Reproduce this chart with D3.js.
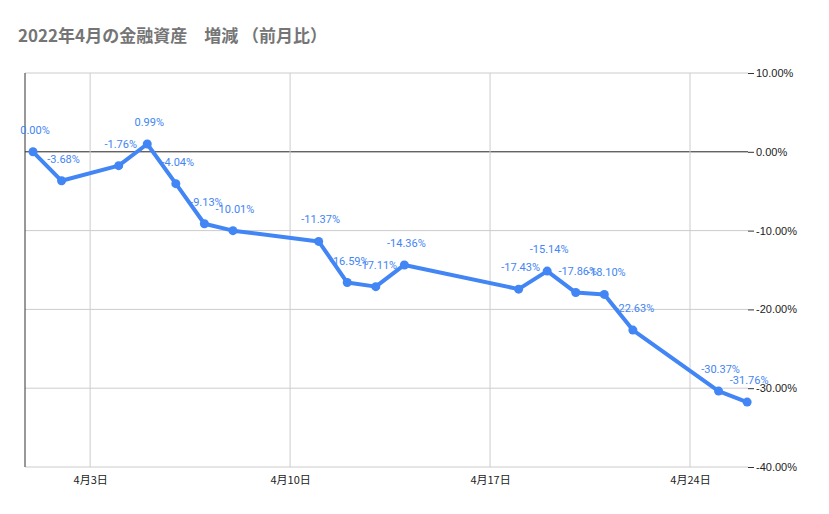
<!DOCTYPE html>
<html><head><meta charset="utf-8">
<script src="https://cdn.jsdelivr.net/npm/d3@7"></script>
<style>body{margin:0;background:#fff;font-family:Roboto,"Noto Sans CJK JP",sans-serif}</style>
</head><body><div id="chart"></div>
<script>
// April days and net change vs previous month (%)
const days   = [1, 2, 4, 5, 6, 7, 8, 11, 12, 13, 14, 18, 19, 20, 21, 22, 25, 26];
const values = [0.00, -3.68, -1.76, 0.99, -4.04, -9.13, -10.01, -11.37, -16.59, -17.11, -14.36, -17.43, -15.14, -17.86, -18.10, -22.63, -30.37, -31.76];
const xTicks = [3, 10, 17, 24];
const yTicks = [10, 0, -10, -20, -30, -40];

const W = 829, H = 514;
const m = {left: 25, right: 81, top: 73, bottom: 47};
const svg = d3.select('#chart').append('svg').attr('width', W).attr('height', H);

const x = d3.scaleLinear().domain([0.72, 26.03]).range([m.left, W - m.right]);
const y = d3.scaleLinear().domain([-40, 10]).range([H - m.bottom, m.top]);

svg.append('text').attr('x', 18).attr('y', 42)
  .attr('font-size', 17).attr('font-weight', 'bold').attr('fill', '#757575')
  .attr('font-family', '"Noto Sans CJK JP",sans-serif')
  .text('2022年4月の金融資産　増減 （前月比）');

// gridlines
svg.append('g').selectAll('line').data(yTicks).join('line')
  .attr('x1', m.left).attr('x2', W - m.right)
  .attr('y1', d => y(d)).attr('y2', d => y(d))
  .attr('stroke', d => d === 0 ? '#222' : '#ccc').attr('stroke-width', 1);
svg.append('g').selectAll('line').data(xTicks).join('line')
  .attr('x1', d => x(d)).attr('x2', d => x(d))
  .attr('y1', m.top).attr('y2', H - m.bottom).attr('stroke', '#ccc');
svg.append('line').attr('x1', m.left).attr('x2', m.left)
  .attr('y1', m.top).attr('y2', H - m.bottom).attr('stroke', '#333');

// axes
const yAxis = svg.append('g').attr('transform', `translate(${W - m.right},0)`)
  .call(d3.axisRight(y).tickValues(yTicks).tickSize(6).tickFormat(d => d.toFixed(2) + '%'));
yAxis.select('.domain').remove();
yAxis.selectAll('line').attr('stroke', '#333');
yAxis.selectAll('text').attr('font-size', 11).attr('fill', '#222').attr('x', 8);

const xAxis = svg.append('g').attr('transform', `translate(0,${H - m.bottom})`)
  .call(d3.axisBottom(x).tickValues(xTicks).tickSize(0).tickFormat(d => `4月${d}日`));
xAxis.select('.domain').remove();
xAxis.selectAll('text').attr('font-size', 11).attr('fill', '#222').attr('dy', '1.3em')
  .attr('font-family', '"Noto Sans CJK JP",sans-serif');

const pts = days.map((d, i) => [d, values[i]]);
svg.append('path').datum(pts)
  .attr('d', d3.line().x(d => x(d[0])).y(d => y(d[1])))
  .attr('fill', 'none').attr('stroke', '#4285f4').attr('stroke-width', 4)
  .attr('stroke-linejoin', 'round');
svg.append('g').selectAll('circle').data(pts).join('circle')
  .attr('cx', d => x(d[0])).attr('cy', d => y(d[1])).attr('r', 4.5).attr('fill', '#4285f4');

svg.append('g').selectAll('text').data(pts).join('text')
  .attr('x', d => x(d[0]) + 2)
  .attr('y', d => y(d[1]) - 18)
  .attr('text-anchor', 'middle').attr('font-size', 11).attr('fill', '#4285f4')
  .text(d => d[1].toFixed(2) + '%');
</script></body></html>
